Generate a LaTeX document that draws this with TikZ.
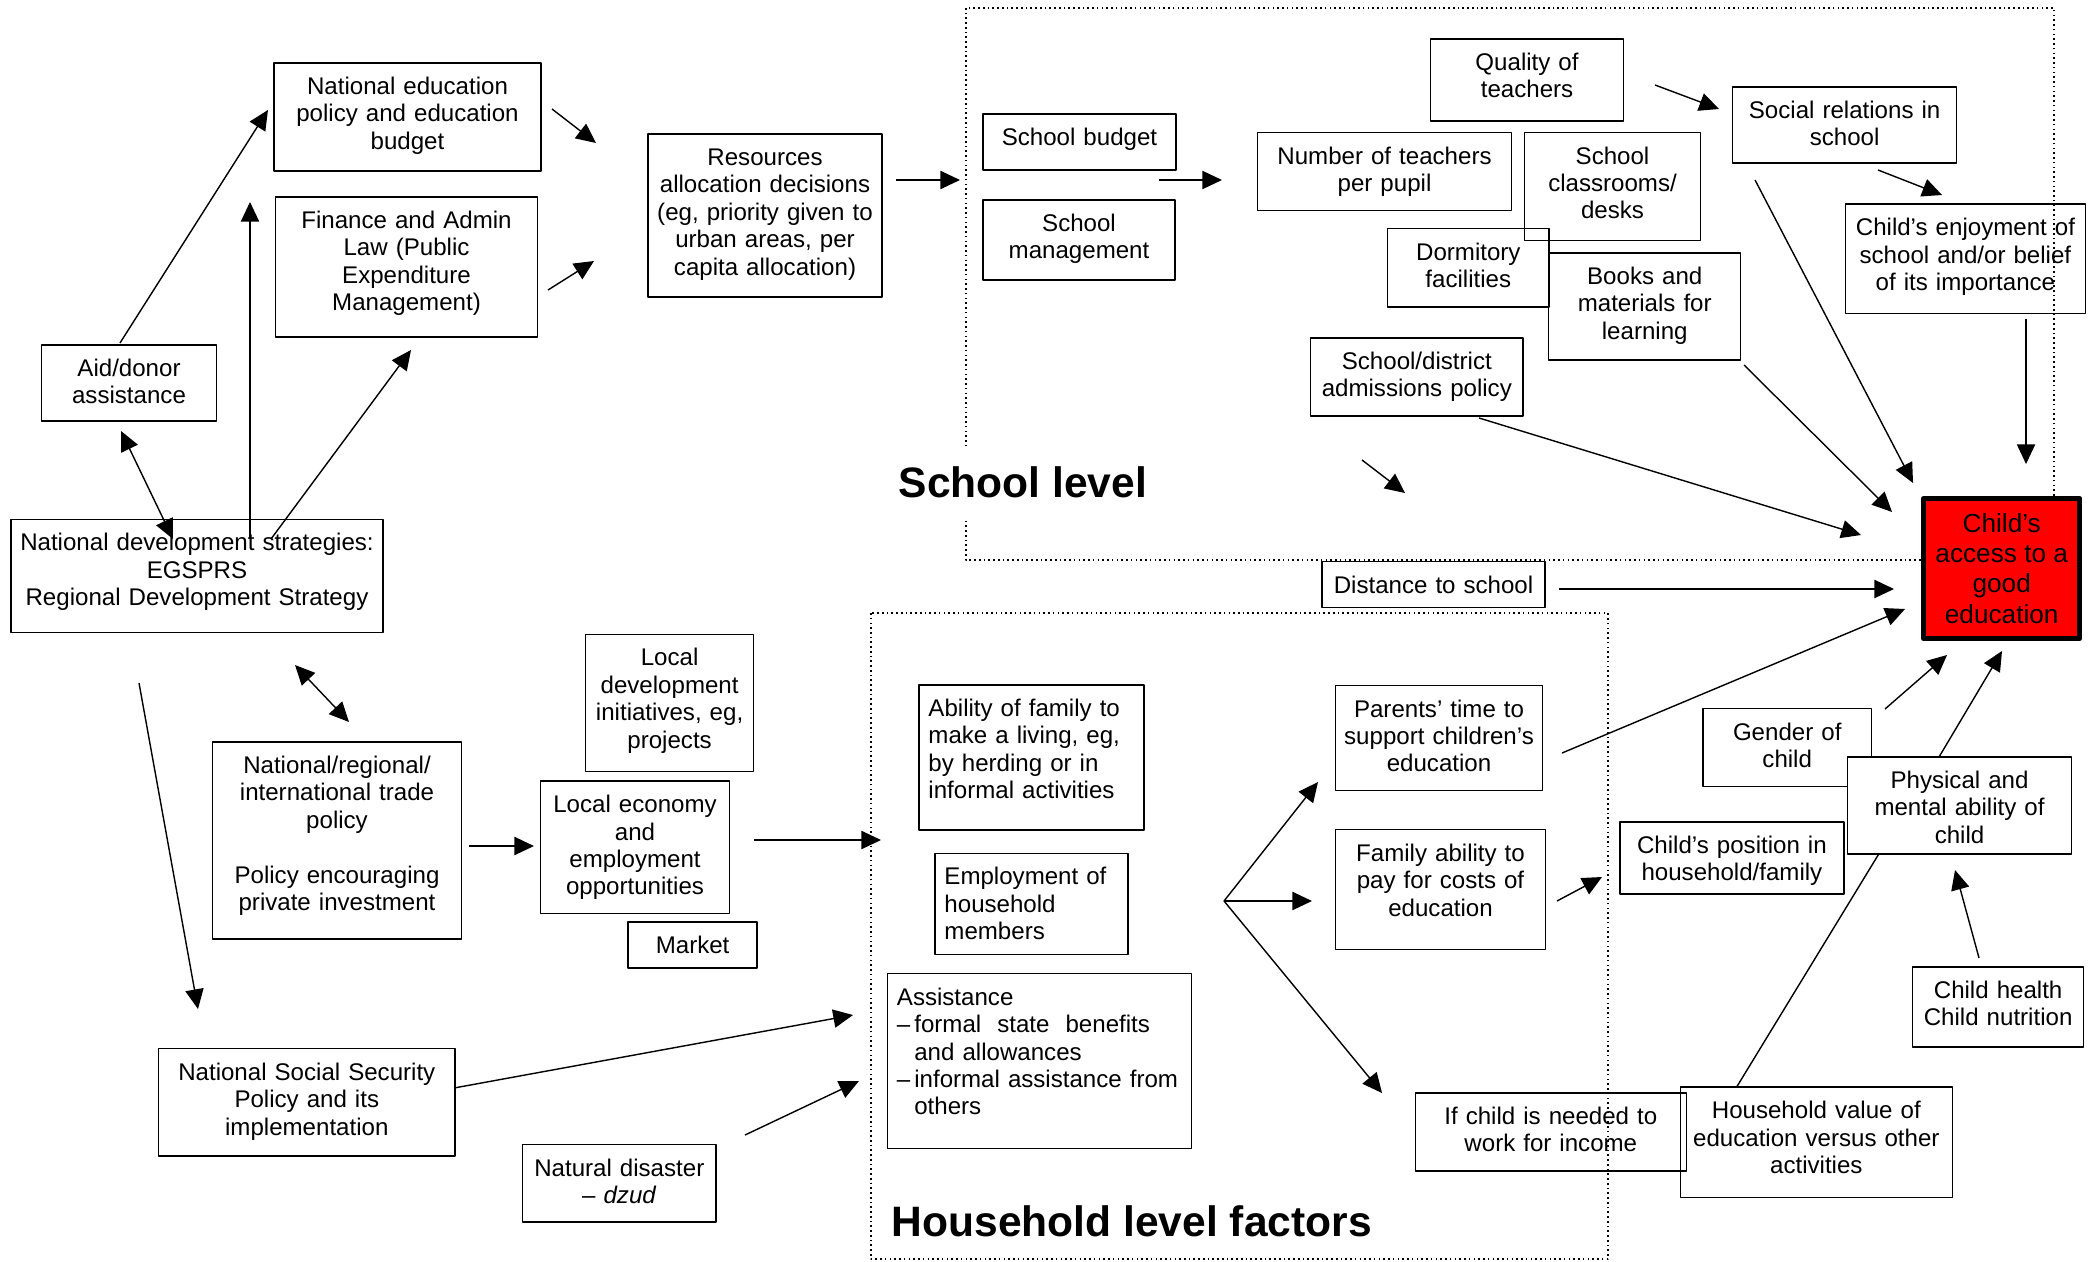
\documentclass[tikz,border=0pt]{standalone}
\usepackage{fontspec}
\setmainfont{Liberation Sans}
\usetikzlibrary{arrows.meta,calc}
\begin{document}
\begin{tikzpicture}[x=.01cm,y=-.01cm,line join=round,line width=.4pt,
  font=\fontsize{6.85}{7.8}\selectfont,
  bx/.style 2 args={draw,align=center,inner sep=0pt,text width=#1cm,text height=.315cm,text depth=#2cm},
  lbx/.style 2 args={draw,align=left,inner xsep=.095cm,inner ysep=0pt,text width=#1cm,text height=.315cm,text depth=#2cm},
  arr/.style={-{Triangle[length=5.6pt,width=5.2pt]}},
  darr/.style={{Triangle[length=5.6pt,width=5.2pt]}-{Triangle[length=5.6pt,width=5.2pt]}},
  frame/.style={line width=.45pt,dash pattern=on .45pt off .9pt},
  lvl/.style={font=\fontsize{12.1}{14}\selectfont\bfseries,inner xsep=0pt,inner ysep=.2cm,anchor=base west}]
\path[fill=white] (0,0) rectangle (2098,1261);
\useasboundingbox (0,0) rectangle (2098,1261);
% levels
\draw[frame] (966,8) rectangle (2054,560);
\draw[frame] (871,613) rectangle (1608,1259);
\node[lvl,fill=white] (schlvl) at (898,497.5) {School level};
\node[lvl] (hhlvl) at (891,1236.5) {Household level factors};
% national
\node[bx={2.67}{.765}] (nated) at (407.5,117) {National education\\policy and education\\budget};
\node[bx={2.62}{1.085}] (finance) at (406.5,267) {Finance and Admin\\Law (Public\\Expenditure\\Management)};
\node[bx={2.34}{1.315}] (resources) at (765,215.5) {Resources\\allocation decisions\\(eg, priority given to\\urban areas, per\\capita allocation)};
\node[bx={1.75}{.445}] (aid) at (129,383) {Aid/donor\\assistance};
\node[bx={3.72}{.815}] (natdev) at (197,576) {National development strategies:\\EGSPRS\\Regional Development Strategy};
\node[bx={1.68}{1.055}] (localdev) at (669.6,703) {Local\\development\\initiatives, eg,\\projects};
\node[bx={2.49}{1.655}] (trade) at (337,840.4) {National/regional/\\international trade\\policy\\[7.8pt]Policy encouraging\\private investment};
\node[bx={1.89}{1.005}] (localecon) at (635,847.2) {Local economy\\and\\employment\\opportunities};
\node[bx={1.29}{.145}] (market) at (692.6,944.9) {Market};
\node[bx={2.96}{.755}] (nss) at (306.8,1102.3) {National Social Security\\Policy and its\\implementation};
\node[bx={1.93}{.455}] (disaster) at (619.3,1183.3) {Natural disaster\\– \textit{dzud}};
% school
\node[bx={1.93}{.245}] (budget) at (1079.5,142) {School budget};
\node[bx={1.92}{.485}] (mgmt) at (1079,240) {School\\management};
\node[bx={2.54}{.465}] (nteach) at (1384.5,171.6) {Number of teachers\\per pupil};
\node[bx={1.93}{.505}] (quality) at (1527,80) {Quality of\\teachers};
\node[bx={1.76}{.765}] (classes) at (1612.5,186.6) {School\\classrooms/\\desks};
\node[bx={1.61}{.465}] (dorm) at (1468.3,267.8) {Dormitory\\facilities};
\node[bx={1.92}{.755}] (books) at (1644.7,306.4) {Books and\\materials for\\learning};
\node[bx={2.24}{.445}] (social) at (1844.6,125) {Social relations in\\school};
\node[bx={2.40}{.775}] (enjoy) at (1965.4,258.7) {Child’s enjoyment of\\school and/or belief\\of its importance};
\node[bx={2.12}{.465}] (admis) at (1416.8,377) {School/district\\admissions policy};
\node[bx={2.23}{.145}] (dist) at (1433.5,584.6) {Distance to school};
\node[draw,align=center,inner sep=0pt,minimum width=1.56cm,minimum height=1.40cm,fill=red,line width=1.42pt,font=\fontsize{7.45}{8.6}\selectfont] (access) at (2001.7,568.5) {Child’s\\access to a\\good\\education};
% household
\node[lbx={2.06}{1.135}] (ability) at (1031.5,757.5) {Ability of family to\\make a living, eg,\\by herding or in\\informal activities};
\node[lbx={1.74}{.695}] (employ) at (1031.5,904) {Employment of\\household\\members};
\node[lbx={2.85}{1.435}] (assist) at (1039.5,1061.2) {Assistance\\–\,formal~~state~~benefits\\\phantom{–\,}and allowances\\–\,informal assistance from\\\phantom{–\,}others};
\node[bx={2.07}{.735}] (parents) at (1439,738.1) {Parents’ time to\\support children’s\\education};
\node[bx={2.10}{.885}] (pay) at (1440.5,889.7) {Family ability to\\pay for costs of\\education};
\node[bx={2.71}{.465}] (work) at (1550.8,1132) {If child is needed to\\work for income};
\node[bx={2.72}{.785}] (hhvalue) at (1816.3,1142.2) {Household value of\\education versus other\\activities};
\node[bx={1.68}{.465}] (gender) at (1787.2,747.6) {Gender of\\child};
\node[bx={2.24}{.655},fill=white] (phys) at (1959.5,805.5) {Physical and\\mental ability of\\child};
\node[bx={2.24}{.405}] (position) at (1731.9,858) {Child’s position in\\household/family};
\node[bx={1.71}{.485}] (health) at (1998.1,1006.9) {Child health\\Child nutrition};
% arrow ends
\coordinate (aidA) at (120,343); \coordinate (aidB) at (268,110);
\coordinate (upA) at (250,539); \coordinate (upB) at (250,202);
\coordinate (finA) at (271,539); \coordinate (finB) at (411,350);
\coordinate (dblA) at (121,431); \coordinate (dblB) at (173,539);
\coordinate (natedA) at (552,109); \coordinate (natedB) at (596,143);
\coordinate (lawA) at (548,290); \coordinate (lawB) at (594,261);
\coordinate (resA) at (896,180); \coordinate (resB) at (960,180);
\coordinate (budA) at (1159,180); \coordinate (budB) at (1222,180);
\coordinate (qualA) at (1655,85); \coordinate (qualB) at (1719,109);
\coordinate (socA) at (1878,170); \coordinate (socB) at (1942,195);
\coordinate (enjA) at (2026,319); \coordinate (enjB) at (2026,464);
\coordinate (relA) at (1755,180); \coordinate (relB) at (1913,483);
\coordinate (bookA) at (1744,365); \coordinate (bookB) at (1892,512);
\coordinate (admA) at (1479,418); \coordinate (admB) at (1861,535);
\coordinate (shA) at (1362,460); \coordinate (shB) at (1405,493);
\coordinate (distA) at (1559,589); \coordinate (distB) at (1894,589);
\coordinate (parA) at (1562,753); \coordinate (parB) at (1905,609);
\coordinate (genA) at (1885,709); \coordinate (genB) at (1947,655);
\coordinate (phyA) at (1939,757); \coordinate (phyB) at (2002,651);
\coordinate (trdA) at (295,665); \coordinate (trdB) at (349,722);
\coordinate (nssA) at (139,683); \coordinate (nssB) at (198,1009);
\coordinate (ecoA) at (469,846); \coordinate (ecoB) at (534,846);
\coordinate (hhA) at (754,840); \coordinate (hhB) at (881,840);
\coordinate (socsecA) at (454,1088); \coordinate (socsecB) at (853,1015);
\coordinate (disA) at (745,1135); \coordinate (disB) at (859,1081);
\coordinate (fan) at (1224,901);
\coordinate (fanA) at (1318,782); \coordinate (fanB) at (1312,901); \coordinate (fanC) at (1382,1093);
\coordinate (payA) at (1557,901); \coordinate (payB) at (1602,877);
\coordinate (hltA) at (1979,958); \coordinate (hltB) at (1955,870);
% arrows
\draw[arr] (aidA) -- (aidB);
\draw[arr] (upA) -- (upB);
\draw[arr] (finA) -- (finB);
\draw[darr] (dblA) -- (dblB);
\draw[arr] (natedA) -- (natedB);
\draw[arr] (lawA) -- (lawB);
\draw[arr] (resA) -- (resB);
\draw[arr] (budA) -- (budB);
\draw[arr] (qualA) -- (qualB);
\draw[arr] (socA) -- (socB);
\draw[arr] (enjA) -- (enjB);
\draw[arr] (relA) -- (relB);
\draw[arr] (bookA) -- (bookB);
\draw[arr] (admA) -- (admB);
\draw[arr] (shA) -- (shB);
\draw[arr] (distA) -- (distB);
\draw[arr] (parA) -- (parB);
\draw[arr] (genA) -- (genB);
\draw[arr] (phyA) -- (phyB);
\draw[darr] (trdA) -- (trdB);
\draw[arr] (nssA) -- (nssB);
\draw[arr] (ecoA) -- (ecoB);
\draw[arr] (hhA) -- (hhB);
\draw[arr] (socsecA) -- (socsecB);
\draw[arr] (disA) -- (disB);
\draw[arr] (fan) -- (fanA);
\draw[arr] (fan) -- (fanB);
\draw[arr] (fan) -- (fanC);
\draw[arr] (payA) -- (payB);
\draw ($(hhvalue.north west)!.21!(hhvalue.north east)$) -- ($(phys.south west)!.14!(phys.south east)$);
\draw[arr] (hltA) -- (hltB);
\end{tikzpicture}
\end{document}
